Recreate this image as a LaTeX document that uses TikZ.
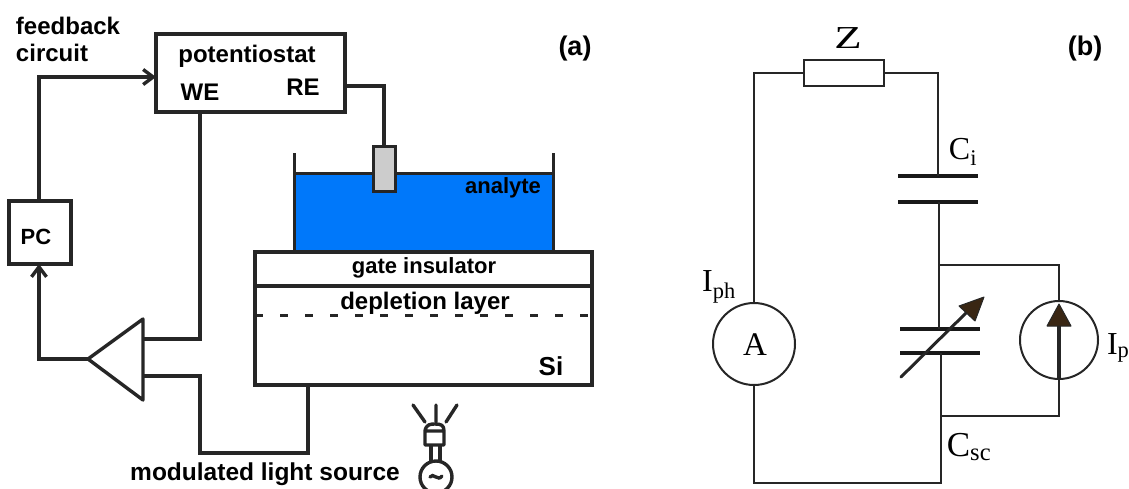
\documentclass[tikz,border=0pt]{standalone}
\usepackage{fontspec}
\usetikzlibrary{arrows.meta}
\setmainfont{Liberation Serif}
\newfontfamily\armfont{Liberation Sans}
\definecolor{analyteblue}{RGB}{0,120,250}
\tikzset{
  armlabel/.style={font=\armfont\bfseries\fontsize{24}{27}\selectfont,inner sep=0pt,outer sep=0pt},
  armbox/.style={draw=black!85,line width=3.4pt,inner sep=0pt,outer sep=0pt},
  armwire/.style={draw=black!85,line width=3.4pt,>={Straight Barb[length=10pt,width=15pt]}},
  cirlabel/.style={font=\fontsize{32}{34}\selectfont,inner sep=0pt,outer sep=0pt},
  cirwire/.style={draw=black!85,line width=2pt},
  plate/.style={draw=black!90,line width=4.4pt},
  cirring/.style={circle,draw=black!85,line width=2pt,inner sep=0pt,outer sep=0pt,minimum size=78pt},
}
\begin{document}
\begin{tikzpicture}[x=1pt,y=-1pt]
\useasboundingbox (0,0) rectangle (1129,488);
\clip (0,0) rectangle (1129,488);
% panel a
\fill[analyteblue] (294,173) rectangle (553,252);
\node[armbox,minimum width=189pt,minimum height=78pt] (poten) at (250.5,73) {};
\node[armbox,minimum width=62pt,minimum height=63pt] (pc) at (40,232.5) {};
\node[armlabel,font=\armfont\bfseries\fontsize{22}{27}\selectfont] (pclabel) at (36,237) {PC};
\node[armlabel] (potenlabel) at (247,56) {potentiostat};
\node[armlabel] (we) at (200,92) {WE};
\node[armlabel] (re) at (303,87) {RE};
\node[armlabel,align=left,anchor=north west] (feedback) at (16,17) {feedback\\circuit};
\node[armbox,minimum width=337pt,minimum height=34pt] (gate) at (423.5,269) {};
\node[armbox,minimum width=337pt,minimum height=99pt] (si) at (423.5,335.5) {};
\node[armlabel,font=\armfont\bfseries\fontsize{22}{24}\selectfont] (gatelabel) at (424,268) {gate insulator};
\node[armlabel] (deplabel) at (425,303) {depletion layer};
\node[armlabel,font=\armfont\bfseries\fontsize{26}{27}\selectfont] (silabel) at (551,366) {Si};
\node[armlabel,font=\armfont\bfseries\fontsize{22}{24}\selectfont] (analyte) at (503,188) {analyte};
\node[armlabel,font=\armfont\bfseries\fontsize{27}{27}\selectfont] (alabel) at (575,49) {(a)};
\node[armlabel,font=\armfont\bfseries\fontsize{24.5}{27}\selectfont] (sourcelabel) at (265,474) {modulated light source};
\coordinate (wallL) at (294,153);
\coordinate (wallR) at (553,153);
\coordinate (fbin) at (156,77);
\coordinate (reout) at (345,86);
\coordinate (weout) at (200,112);
\coordinate (apex) at (88,359);
\coordinate (amptop) at (143,319);
\coordinate (ampbot) at (143,400);
\coordinate (ampin) at (143,339);
\coordinate (ampin2) at (143,376);
\coordinate (siout) at (308,385);
\draw[armwire,line width=3pt] (wallL) -- (wallL |- gate.north) (wallR) -- (wallR |- gate.north);
\draw[armwire,line width=3pt] (294,173) -- (553,173);
\node[armbox,fill=black!20,line width=3pt,minimum width=22pt,minimum height=45pt] (electrode) at (384,168.5) {};
\draw[armwire] (reout) -| (electrode.north);
\draw[armwire,->] (pc.north -| 39,0) -- (39,77) -- (fbin);
\draw[armwire,line join=round] (apex) -- (amptop) -- (ampbot) -- cycle;
\draw[armwire] (weout) |- (ampin);
\draw[armwire] (ampin2) -| (200,453) -| (siout);
\draw[armwire,->] (apex) -| (pc.south -| 39,0);
\draw[armwire,line width=3pt,dash pattern=on 8pt off 17pt] (255,315) -- (592,315);
% lamp
\draw[armwire,line cap=round] (413,405)--(425,422) (436,405)--(436,422) (457,405)--(446,422);
\draw[armwire,line join=round] (425,431) .. controls (426,424) and (431,424) .. (435,424) .. controls (441,424) and (444,425) .. (444,431) -- (444,445) -- (425,445) -- cycle (425,431) -- (444,431);
\draw[armwire] (431,445) -- (431,462) (440,445) -- (440,462);
\node[circle,draw=black!85,line width=3.4pt,minimum size=32pt,inner sep=0pt] (bulb) at (436,477) {};
\draw[armwire,line cap=round,line width=3.4pt] (430,477) .. controls (433,472) and (438,482) .. (442,476);
% panel b
\node[armlabel,font=\armfont\bfseries\fontsize{27}{27}\selectfont] (blabel) at (1085,49) {(b)};
\node[draw=black!85,line width=2pt,minimum width=80pt,minimum height=26pt,inner sep=0pt,outer sep=0pt] (zbox) at (844,73) {};
\node[cirring,minimum size=82pt] (ammeter) at (754,344) {};
\node[cirlabel,font=\fontsize{33}{34}\selectfont] (alabelb) at (755,345) {A};
\node[cirring] (source) at (1059,340) {};
\node[cirlabel,xscale=1.4] (zlabel) at (848,38) {Z};
\node[cirlabel] (cilabel) at (963,152) {C\textsubscript{i}};
\node[cirlabel] (iphlabel) at (719,287) {I\textsubscript{ph}};
\node[cirlabel,font=\fontsize{35}{36}\selectfont] (csclabel) at (969,447) {C\textsubscript{sc}};
\node[cirlabel,anchor=west] (iplabel) at (1107,348) {I\textsubscript{p}};
\coordinate (citop) at (938,176);
\coordinate (cibot) at (939,202);
\coordinate (cstop) at (939,329);
\coordinate (csbot) at (941,353);
\coordinate (branchtop) at (939,265);
\coordinate (branchbot) at (941,416);
\coordinate (bottomC) at (941,483);
\draw[plate] (898,176) -- (978,176) (898,202) -- (978,202);
\draw[plate] (900,329) -- (980,329) (900,353) -- (980,353);
\draw[cirwire] (ammeter.north) |- (zbox.west);
\draw[cirwire] (zbox.east) -| (citop);
\draw[cirwire] (cibot) -- (cstop);
\draw[cirwire] (csbot) -- (bottomC) -| (ammeter.south);
\draw[cirwire] (branchtop) -| (source.north);
\draw[cirwire] (branchbot) -| (source.south);
% arrows
\draw[line width=3pt,draw=black!85,line cap=round] (901,377) -- (966,313);
\fill[fill=black!70!brown,draw=black!85,line width=1pt,line join=round] (984,297) -- (959,306) -- (975,321) -- cycle;
\draw[line width=3.4pt,draw=black!85] (source.south) -- (1059,324);
\fill[fill=black!70!brown,draw=black!85,line width=1pt,line join=round] (1059,304) -- (1047,326) -- (1071,326) -- cycle;
\end{tikzpicture}
\end{document}
